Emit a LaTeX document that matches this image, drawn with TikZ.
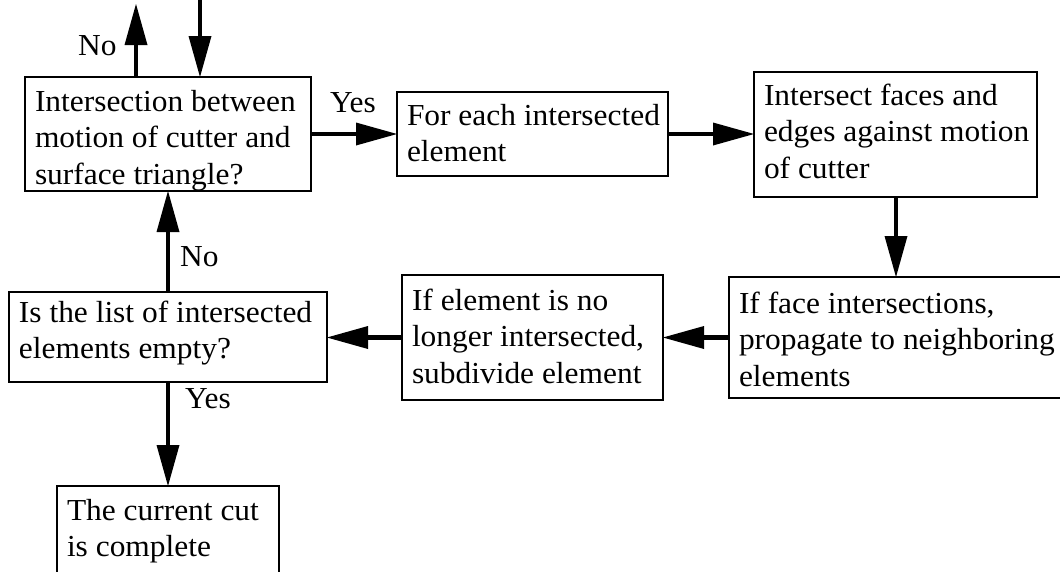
\documentclass[tikz,border=0pt]{standalone}
\usepackage{fontspec}
\setmainfont{Liberation Serif}[FakeStretch=1.03]
\usetikzlibrary{arrows.meta}
% #1 width, #2 height, #3 first baseline below top, #4 lines separated by \\
\newcommand\bxtext[4]{%
  \vbox to #2{\hrule height0pt depth0pt width#1\relax
    \vskip\dimexpr#3-24pt\relax
    \baselineskip=36.5pt \lineskip=0pt \lineskiplimit=-100pt
    \let\\\cr
    \halign{\hskip10pt\rule{0pt}{24pt}##\hfil\cr#4\crcr}%
    \vfil}}
\begin{document}
\begin{tikzpicture}[x=1pt,y=-1pt,
  every node/.style={font=\fontsize{30.5}{36.5}\selectfont},
  stepbox/.style={draw, line width=1.3pt, inner sep=0pt, outer sep=0pt, anchor=north west},
  lbl/.style={inner sep=0pt, anchor=base west},
  arr/.style={line width=4.5pt, -{Triangle[length=41pt,width=23pt,line width=0pt]}}]
\useasboundingbox (0,0) rectangle (1060,571);
\clip (0,0) rectangle (1060,571);
\node[stepbox] (A) at (25,77) {\bxtext{286pt}{114pt}{34pt}{Intersection between\\motion of cutter and\\surface triangle?}};
\node[stepbox] (B) at (397,92) {\bxtext{271pt}{84pt}{33pt}{For each intersected\\element}};
\node[stepbox] (C) at (754,72) {\bxtext{283pt}{125pt}{33pt}{Intersect faces and\\edges against motion\\of cutter}};
\node[stepbox] (D) at (729,277) {\bxtext{400pt}{121pt}{36pt}{If face intersections,\\propagate to neighboring\\elements}};
\node[stepbox] (E) at (402,275) {\bxtext{261pt}{125pt}{35pt}{If element is no\\longer intersected,\\subdivide element}};
\node[stepbox] (F) at (9,292) {\bxtext{318pt}{90pt}{30pt}{Is the list of intersected\\elements empty?}};
\node[stepbox] (G) at (57,486) {\bxtext{222pt}{120pt}{34pt}{The current cut\\is complete}};
\coordinate (xno) at (136,0);
\coordinate (xin) at (200,0);
\coordinate (xnotip) at (136,4);
\coordinate (xcd) at (896,0);
\coordinate (xleft) at (168,0);
\draw[arr] (xno |- A.north) -- (xnotip);
\draw[arr] (xin) -- (xin |- A.north);
\draw[arr] (A.east) -- (B.west);
\draw[arr] (B.east) -- (B.east -| C.west);
\draw[arr] (xcd |- C.south) -- (xcd |- D.north);
\draw[arr] (D.west) -- (D.west -| E.east);
\draw[arr] (E.west) -- (E.west -| F.east);
\draw[arr] (xleft |- F.north) -- (xleft |- A.south);
\draw[arr] (xleft |- F.south) -- (xleft |- G.north);
\node[lbl] (lno1) at (78,55) {No};
\node[lbl] (lyes1) at (330,112) {Yes};
\node[lbl] (lno2) at (180,266) {No};
\node[lbl] (lyes2) at (185,408) {Yes};
\end{tikzpicture}
\end{document}
